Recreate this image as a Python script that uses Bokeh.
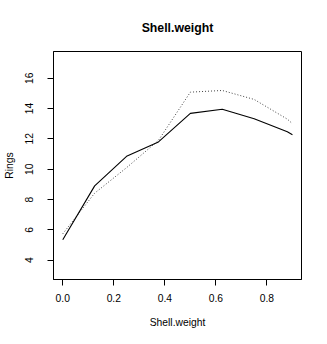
from bokeh.plotting import figure
from bokeh.models import Range1d, FixedTicker
from bokeh.embed import file_html
from bokeh.resources import INLINE

# data
shell_weight = [0.0, 0.125, 0.25, 0.375, 0.5, 0.625, 0.75, 0.88, 0.9]
rings_solid = [5.35, 8.9, 10.85, 11.8, 13.68, 13.95, 13.33, 12.47, 12.27]
rings_dotted = [5.74, 8.42, 10.1, 11.9, 15.08, 15.19, 14.6, 13.3, 13.0]

x_ticks = [0.0, 0.2, 0.4, 0.6, 0.8]
x_tick_labels = ["0.0", "0.2", "0.4", "0.6", "0.8"]
y_ticks = [4, 6, 8, 10, 12, 14, 16]
y_tick_labels = ["4", "6", "8", "10", "12", "14", "16"]

FONT = "Liberation Sans"

p = figure(
    width=320, height=336,
    min_border_left=52, min_border_right=19, min_border_top=51, min_border_bottom=57,
    x_range=Range1d(-0.0363, 0.9355), y_range=Range1d(2.727, 17.76),
    output_backend="svg", toolbar_location=None, tools="",
    title="Shell.weight",
)
p.background_fill_color = "white"
p.border_fill_color = "white"
p.outline_line_color = "black"
p.outline_line_width = 1
p.grid.visible = False

p.title.align = "center"
p.title.text_font = FONT
p.title.text_font_size = "12.3px"
p.title.text_font_style = "bold"
p.title.text_color = "black"
p.title.standoff = 34

for ax in (p.xaxis[0], p.yaxis[0]):
    ax.axis_line_color = "black"
    ax.major_tick_line_color = "black"
    ax.major_tick_out = 6
    ax.major_tick_in = 0
    ax.minor_tick_line_color = None
    ax.major_label_text_font = FONT
    ax.major_label_text_font_size = "10.3px"
    ax.major_label_text_color = "black"
    ax.axis_label_text_font = FONT
    ax.axis_label_text_font_size = "10.3px"
    ax.axis_label_text_font_style = "normal"
    ax.axis_label_text_color = "black"

p.xaxis.ticker = FixedTicker(ticks=x_ticks)
p.xaxis.major_label_overrides = dict(zip(x_ticks, x_tick_labels))
p.xaxis.axis_label = "Shell.weight"
p.xaxis.major_label_standoff = 8
p.xaxis.axis_label_standoff = 12

p.yaxis.ticker = FixedTicker(ticks=y_ticks)
p.yaxis.major_label_overrides = dict(zip(y_ticks, y_tick_labels))
p.yaxis.major_label_orientation = "vertical"
p.yaxis.axis_label = "Rings"
p.yaxis.major_label_standoff = 14
p.yaxis.axis_label_standoff = 8

p.line(shell_weight, rings_dotted, line_color="#444444", line_width=1, line_dash="1 2")
p.line(shell_weight, rings_solid, line_color="black", line_width=1.1)

open("out.html", "w").write(file_html(p, INLINE))
